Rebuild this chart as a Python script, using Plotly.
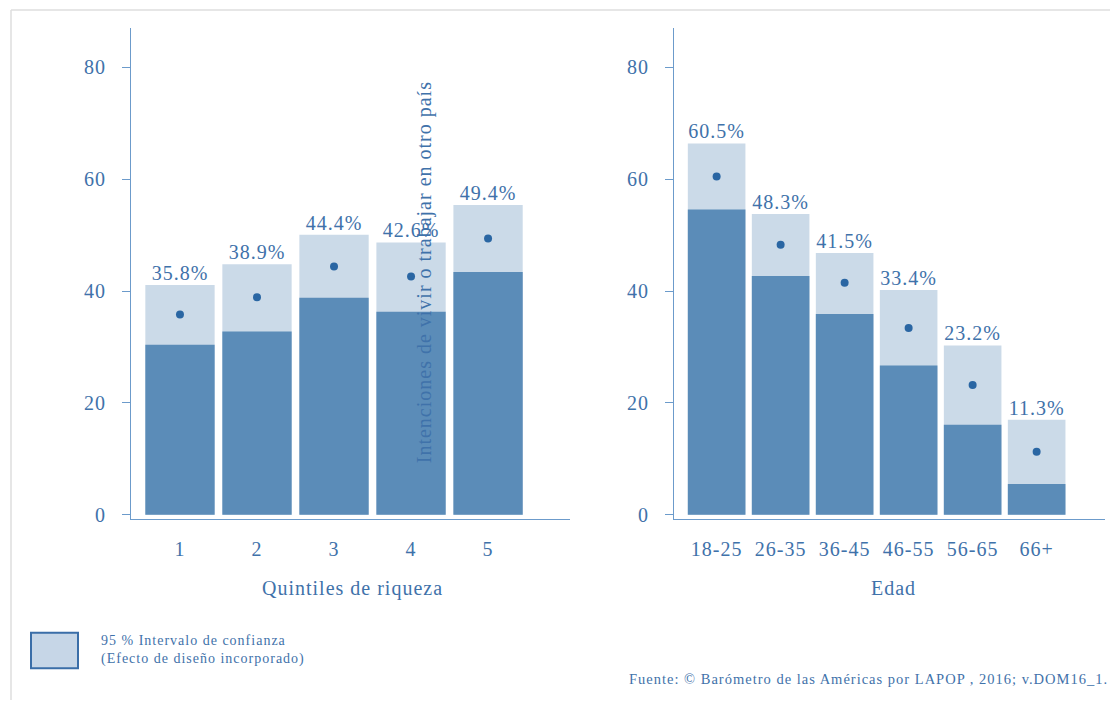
import plotly.graph_objects as go

# ---------------- data ----------------
quintiles = ["1", "2", "3", "4", "5"]
q_mean = [35.8, 38.9, 44.4, 42.6, 49.4]
q_low = [30.4, 32.8, 38.8, 36.3, 43.4]
q_high = [41.1, 44.8, 50.1, 48.7, 55.4]

ages = ["18-25", "26-35", "36-45", "46-55", "56-65", "66+"]
a_mean = [60.5, 48.3, 41.5, 33.4, 23.2, 11.3]
a_low = [54.6, 42.7, 35.9, 26.7, 16.1, 5.5]
a_high = [66.4, 53.8, 46.8, 40.2, 30.3, 17.0]

y_ticks = [0, 20, 40, 60, 80]

# ---------------- style ----------------
W, H = 1110, 707
FONT = "Liberation Serif"
TXT = "#3f72aa"
AXC = "#6c9bcb"
DARK = "#5b8cb8"
LIGHT = "#cbdae8"
DOT = "#2a66a3"
FS = 20


def px(x):
    return x / W


def py(y):
    return 1 - y / H


fig = go.Figure()


def add_panel(cats, mean, low, high, xa, ya):
    labels = [f"{v:.1f}%" for v in mean]
    fig.add_trace(go.Bar(x=cats, y=high, width=0.9, marker=dict(color=LIGHT, line=dict(width=0)),
                         xaxis=xa, yaxis=ya, showlegend=False, hoverinfo="skip"))
    fig.add_trace(go.Bar(x=cats, y=low, width=0.9, marker=dict(color=DARK, line=dict(width=0)),
                         xaxis=xa, yaxis=ya, showlegend=False, hoverinfo="skip"))
    fig.add_trace(go.Scatter(x=cats, y=mean, mode="markers", marker=dict(color=DOT, size=8),
                             xaxis=xa, yaxis=ya, showlegend=False))
    fig.add_trace(go.Scatter(x=cats, y=high, mode="text", text=labels, textposition="top center",
                             textfont=dict(family=FONT, size=FS, color=TXT),
                             xaxis=xa, yaxis=ya, showlegend=False))


add_panel(quintiles, q_mean, q_low, q_high, "x", "y")
add_panel(ages, a_mean, a_low, a_high, "x2", "y2")

y_range = [-0.71, 87.1]
ydom = [py(524), py(28)]
xaxis_common = dict(showline=True, linecolor=AXC, linewidth=1.2, showgrid=False, zeroline=False,
                    ticks="", tickfont=dict(family=FONT, size=FS, color=TXT), ticklabelstandoff=12,
                    type="category")
yaxis_common = dict(showline=True, linecolor=AXC, linewidth=1.2, showgrid=False, zeroline=False,
                    ticks="outside", ticklen=8, tickcolor=AXC, tickwidth=1.2,
                    tickvals=y_ticks, tickfont=dict(family=FONT, size=FS, color=TXT),
                    ticklabelstandoff=12, range=y_range)

fig.update_layout(
    width=W, height=H, margin=dict(l=0, r=0, t=0, b=0),
    paper_bgcolor="white", plot_bgcolor="white",
    barmode="overlay", bargap=0.1,
    xaxis=dict(domain=[px(131), px(570)], range=[-0.636, 5.064], anchor="y", **xaxis_common),
    yaxis=dict(domain=ydom, anchor="x", **yaxis_common),
    xaxis2=dict(domain=[px(674), px(1105)], range=[-0.666, 6.068], anchor="y2", **xaxis_common),
    yaxis2=dict(domain=ydom, anchor="x2", **yaxis_common),
)

ann_font = dict(family=FONT, size=FS, color=TXT)
fig.add_annotation(text="Quintiles de riqueza", x=px(352), y=py(594), xref="paper", yref="paper",
                   showarrow=False, font=ann_font, xanchor="center", yanchor="middle")
fig.add_annotation(text="Edad", x=px(893), y=py(594), xref="paper", yref="paper",
                   showarrow=False, font=ann_font, xanchor="center", yanchor="middle")
fig.add_annotation(text="Intenciones de vivir o trabajar en otro país", x=px(424), y=py(275),
                   xref="paper", yref="paper", showarrow=False, textangle=-90,
                   font=dict(family=FONT, size=FS, color=TXT), xanchor="center", yanchor="middle")

# legend box
fig.add_shape(type="rect", xref="paper", yref="paper", x0=px(31), x1=px(78), y0=py(675), y1=py(639),
              fillcolor="#c6d6e7", line=dict(color="#3a6ea8", width=2))
fig.add_annotation(text="95 % Intervalo de confianza<br>(Efecto de diseño incorporado)",
                   x=px(99), y=py(656), xref="paper", yref="paper", showarrow=False,
                   align="left", xanchor="left", yanchor="middle",
                   font=dict(family=FONT, size=14, color=TXT))
fig.add_annotation(text="Fuente: © Barómetro de las Américas por LAPOP , 2016; v.DOM16_1.",
                   x=px(627), y=py(686), xref="paper", yref="paper", showarrow=False,
                   align="left", xanchor="left", yanchor="middle",
                   font=dict(family=FONT, size=14.5, color=TXT))

# outer frame lines
fig.add_shape(type="line", xref="paper", yref="paper", x0=px(11), x1=1, y0=py(10), y1=py(10),
              line=dict(color="#dedede", width=1.5))
fig.add_shape(type="line", xref="paper", yref="paper", x0=px(11), x1=px(11), y0=py(10), y1=0,
              line=dict(color="#dedede", width=1.5))

post = (
    "var s=document.createElement('style');"
    "s.innerHTML='html,body{margin:0;padding:0;overflow:hidden;width:1110px;height:707px;}"
    "body>div,.plotly-graph-div,.plot-container{height:707px!important;overflow:hidden!important;line-height:0;}"
    ".svg-container{display:block!important;}"
    ".main-svg text{letter-spacing:1px;}';"
    "document.head.appendChild(s);"
)
fig.write_html("out.html", post_script=post, config={"responsive": False, "displayModeBar": False})
